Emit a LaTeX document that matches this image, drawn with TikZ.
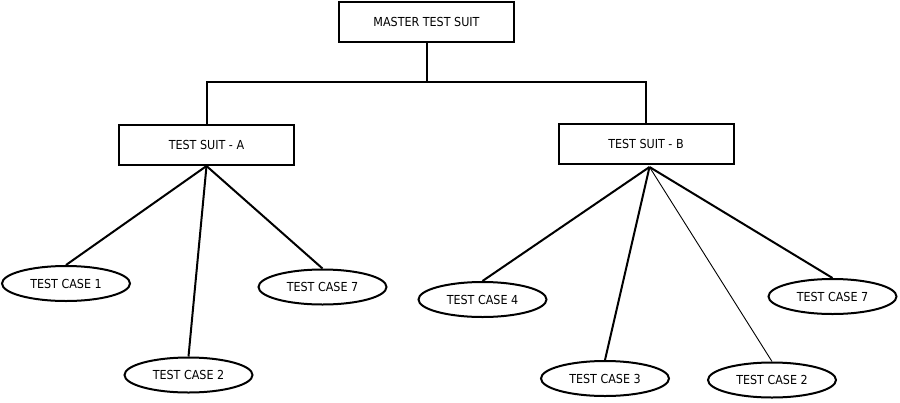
\documentclass[tikz,border=0pt]{standalone}
\usepackage{fontspec}
\setmainfont{DejaVu Sans Condensed}
\usepackage{tikz}
\usetikzlibrary{shapes.geometric}

\begin{document}
\begin{tikzpicture}[x=1pt, y=-1pt, line width=2pt, font=\fontsize{12.4}{14}\selectfont,
	suitbox/.style={shape=rectangle, draw, minimum width=175pt, minimum height=40pt, inner sep=0pt},
	casenode/.style={shape=ellipse, draw, minimum width=128pt, minimum height=35pt, inner sep=0pt}]
	\useasboundingbox (0, 0) rectangle (900, 402);
	% Paths, nodes, and wires:
	\node[suitbox](N1) at (426.5, 22){MASTER TEST SUIT};
	\node[suitbox](N2) at (206.5, 145){TEST SUIT - A};
	\node[suitbox](N3) at (646, 144){TEST SUIT - B};
	\coordinate (J1) at (426.5, 82);
	\draw (N1.south) -- (J1);
	\draw (N2.north) |- (J1) -| (N3.north);
	\node[casenode](N4) at (66, 283.5){TEST CASE 1};
	\node[casenode](N5) at (188.5, 375){TEST CASE 2};
	\node[casenode](N6) at (322.5, 287){TEST CASE 7};
	\node[casenode](N7) at (482.5, 299.5){TEST CASE 4};
	\node[casenode](N8) at (605, 378.5){TEST CASE 3};
	\node[casenode](N9) at (772, 380){TEST CASE 2};
	\node[casenode](N10) at (832.5, 296.5){TEST CASE 7};
	\coordinate (J2) at ([xshift=3.5pt, yshift=-2pt]N3.south);
	\draw (N2.south) -- (N4.north);
	\draw (N2.south) -- (N5.north);
	\draw (N2.south) -- (N6.north);
	\draw (J2) -- (N7.north);
	\draw (J2) -- (N8.north);
	\draw[line width=0.9pt] (J2) -- (N9.north);
	\draw (J2) -- (N10.north);
\end{tikzpicture}
\end{document}
